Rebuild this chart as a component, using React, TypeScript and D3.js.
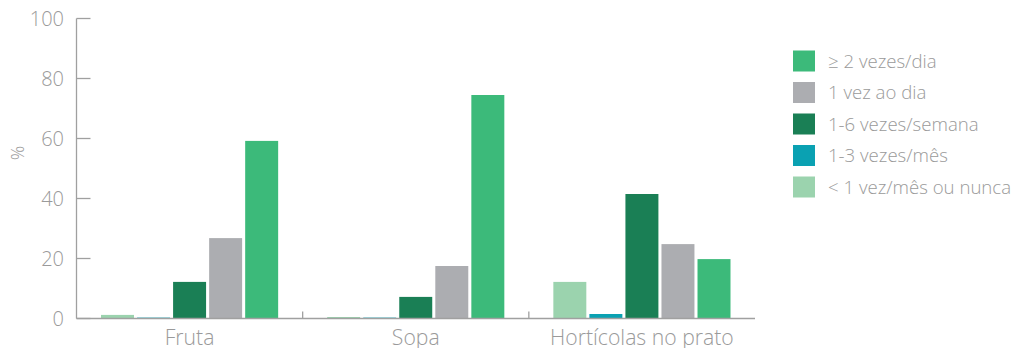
import React, { useEffect, useRef } from "react";
import * as d3 from "d3";

const categories = ["Fruta", "Sopa", "Hortícolas no prato"];
const seriesNames = ["< 1 vez/mês ou nunca", "1-3 vezes/mês", "1-6 vezes/semana", "1 vez ao dia", "≥ 2 vezes/dia"];
const seriesColors = ["#9bd3ae", "#0aa1b2", "#1a7f55", "#acadb1", "#3cba7a"];
const valuesLess1Month = [1.2, 0.5, 12.2];
const values1to3Month = [0.3, 0.3, 1.5];
const values1to6Week = [12.2, 7.2, 41.5];
const values1Day = [26.8, 17.5, 24.8];
const values2PlusDay = [59.2, 74.5, 19.8];
const seriesValues = [valuesLess1Month, values1to3Month, values1to6Week, values1Day, values2PlusDay];
const yTicks = [0, 20, 40, 60, 80, 100];
const legendOrder = [4, 3, 2, 1, 0];

const FONT = "'Open Sans', sans-serif";
const TEXT = "#9a9a9a";
const AXIS = "#a0a0a0";

export default function App() {
  const ref = useRef<SVGSVGElement>(null);
  useEffect(() => {
    const svg = d3.select(ref.current);
    svg.selectAll("*").remove();
    const left = 76.5, right = 755, top = 18.5, bottom = 318.5;
    const x = d3.scaleBand<string>().domain(categories).range([left, right]);
    const inner = d3.scaleBand<number>().domain(d3.range(seriesNames.length)).range([0, x.bandwidth()]).paddingOuter(0.68).paddingInner(0.085);
    const y = d3.scaleLinear().domain([0, 100]).range([bottom, top]);

    // bars
    categories.forEach((c, ci) => {
      seriesValues.forEach((vals, si) => {
        svg.append("rect")
          .attr("x", x(c)! + inner(si)!)
          .attr("y", y(vals[ci]))
          .attr("width", inner.bandwidth())
          .attr("height", bottom - y(vals[ci]))
          .attr("fill", seriesColors[si]);
      });
    });

    // y axis
    svg.append("line").attr("x1", left).attr("x2", left).attr("y1", top).attr("y2", bottom).attr("stroke", AXIS).attr("stroke-width", 1.3);
    yTicks.forEach((t) => {
      svg.append("line").attr("x1", left).attr("x2", left + 14).attr("y1", y(t)).attr("y2", y(t)).attr("stroke", AXIS).attr("stroke-width", 1.3);
      svg.append("text").attr("x", 64).attr("y", y(t)).attr("dy", "0.36em").attr("text-anchor", "end")
        .attr("font-family", FONT).attr("font-weight", 300).attr("font-size", 20).attr("fill", TEXT).text(String(t));
    });
    svg.append("text").attr("transform", `translate(24,153) rotate(-90)`).attr("text-anchor", "middle")
      .attr("font-family", FONT).attr("font-weight", 300).attr("font-size", 18).attr("fill", TEXT).text("%");

    // x axis
    svg.append("line").attr("x1", left).attr("x2", right).attr("y1", bottom).attr("y2", bottom).attr("stroke", AXIS).attr("stroke-width", 1.3);
    categories.slice(1).forEach((c) => {
      svg.append("line").attr("x1", x(c)!).attr("x2", x(c)!).attr("y1", bottom).attr("y2", bottom - 7).attr("stroke", AXIS).attr("stroke-width", 1.3);
    });
    categories.forEach((c) => {
      svg.append("text").attr("x", x(c)! + x.bandwidth() / 2).attr("y", 345).attr("text-anchor", "middle")
        .attr("font-family", FONT).attr("font-weight", 300).attr("font-size", 21.2).attr("fill", TEXT).text(c);
    });

    // legend
    legendOrder.forEach((si, i) => {
      const ly = 50.5 + i * 31.5;
      svg.append("rect").attr("x", 793).attr("y", ly).attr("width", 22).attr("height", 21).attr("fill", seriesColors[si]);
      svg.append("text").attr("x", 828).attr("y", ly + 10.5).attr("dy", "0.36em")
        .attr("font-family", FONT).attr("font-weight", 300).attr("font-size", 18.6).attr("fill", TEXT).text(seriesNames[si]);
    });
  }, []);
  return (
    <svg ref={ref} width={1013} height={348} style={{ position: "absolute", left: 0, top: 0, background: "#fff" }} />
  );
}
